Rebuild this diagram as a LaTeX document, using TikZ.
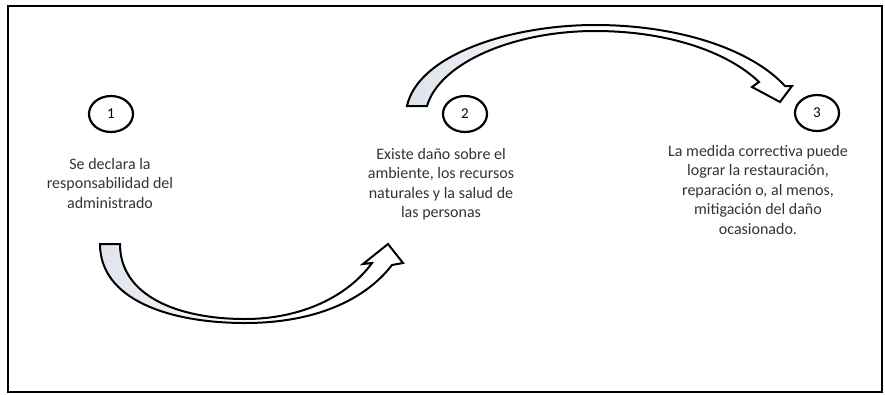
\documentclass[tikz,border=0pt]{standalone}
\usepackage{fontspec}
\setmainfont{Carlito}
\usetikzlibrary{shapes.geometric}
\definecolor{sombra}{HTML}{DFE3EC}
\tikzset{
    paso/.style={draw, ellipse, line width=2.2pt, minimum width=44pt, minimum height=36pt,
        inner sep=0pt, font=\fontsize{15}{18}\selectfont},
    texto/.style={align=center, inner sep=0pt, text=black!80, font=\fontsize{16}{19.5}\selectfont},
    flecha/.style={line width=2pt, line join=miter, left color=sombra, right color=white, middle color=white}
}
\begin{document}
\begin{tikzpicture}[x=1pt, y=-1pt]
            \useasboundingbox (0,0) rectangle (885,394);
            \draw[line width=2.2pt] (8,6) rectangle (882,392);
            % pasos
            \node[paso] (c1) at (111,114) {1};
            \node[paso] (c2) at (465,114) {2};
            \node[paso] (c3) at (817,113) {3};
            \node[texto] (t1) at (110,183) {Se declara la\\responsabilidad del\\administrado};
            \node[texto] (t2) at (441,184) {Existe daño sobre el\\ambiente, los recursos\\naturales y la salud de\\las personas};
            \node[texto] (t3) at (758,190) {La medida correctiva puede\\lograr la restauración,\\reparación o, al menos,\\mitigación del daño\\ocasionado.};
            % flecha de 1 a 2
            \coordinate (colaA) at (100,244);
            \coordinate (puntaA) at (388,244);
            \shadedraw[flecha] (colaA) .. controls (100,300) and (170,323) .. (245,323)
                .. controls (315,323) and (365,300) .. (392,265)
                -- (403,263) -- (puntaA) -- (363,264) -- (372,263)
                .. controls (348,296) and (302,319) .. (245,319)
                .. controls (178,319) and (120,296) .. (120,244) -- cycle;
            % flecha de 2 a 3
            \coordinate (colaB) at (407,106);
            \coordinate (puntaB) at (780,102);
            \shadedraw[flecha] (colaB) .. controls (418,55) and (510,25) .. (595,25)
                .. controls (680,25) and (752,50) .. (785,86)
                -- (792,86) -- (puntaB) -- (752,87) -- (759,82)
                .. controls (728,52) and (668,31) .. (595,31)
                .. controls (515,31) and (440,62) .. (427,106) -- cycle;
\end{tikzpicture}
\end{document}
